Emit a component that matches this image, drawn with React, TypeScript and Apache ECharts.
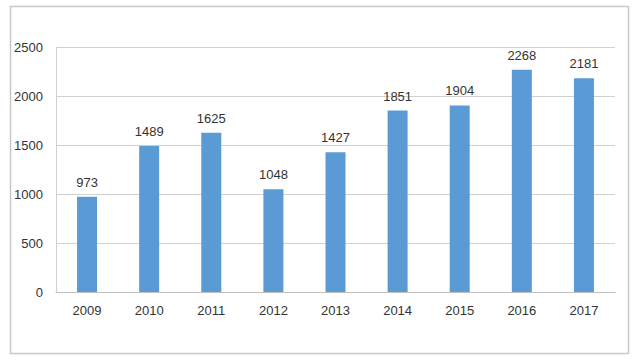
import React, { useEffect, useRef } from "react";
import * as echarts from "echarts";

const categories = ["2009", "2010", "2011", "2012", "2013", "2014", "2015", "2016", "2017"];
const values = [973, 1489, 1625, 1048, 1427, 1851, 1904, 2268, 2181];
const yTicks = { min: 0, max: 2500, interval: 500 };

export default function App() {
  const ref = useRef<HTMLDivElement>(null);
  useEffect(() => {
    if (!ref.current) return;
    const chart = echarts.init(ref.current, null, { renderer: "svg" });
    chart.setOption({
      animation: false,
      backgroundColor: "#ffffff",
      textStyle: { fontFamily: "Liberation Sans" },
      graphic: [
        {
          type: "rect",
          shape: { x: 10.5, y: 6.5, width: 618, height: 347 },
          style: { fill: "none", stroke: "#c8c8c8", lineWidth: 1.5 },
          silent: true,
        },
      ],
      grid: { left: 56, right: 25, top: 47, bottom: 68, containLabel: false },
      xAxis: {
        type: "category",
        data: categories,
        axisLine: { show: true, lineStyle: { color: "#bfbfbf" } },
        axisTick: { show: false },
        axisLabel: { color: "#333333", fontSize: 13, margin: 12 },
      },
      yAxis: {
        type: "value",
        min: yTicks.min,
        max: yTicks.max,
        interval: yTicks.interval,
        axisLine: { show: true, lineStyle: { color: "#d0d0d0" } },
        axisTick: { show: false },
        splitLine: { lineStyle: { color: "#d0d0d0" } },
        axisLabel: {
          color: "#333333",
          fontSize: 13,
          margin: 13,
          formatter: (v: number) => String(v),
        },
      },
      series: [
        {
          type: "bar",
          data: values,
          barWidth: 20,
          itemStyle: { color: "#5b9bd5" },
          label: {
            show: true,
            position: "top",
            distance: 8,
            color: "#333333",
            fontSize: 13,
          },
        },
      ],
    });
    return () => chart.dispose();
  }, []);
  return (
    <div
      ref={ref}
      style={{ position: "fixed", left: 0, top: 0, width: 640, height: 360 }}
    />
  );
}
